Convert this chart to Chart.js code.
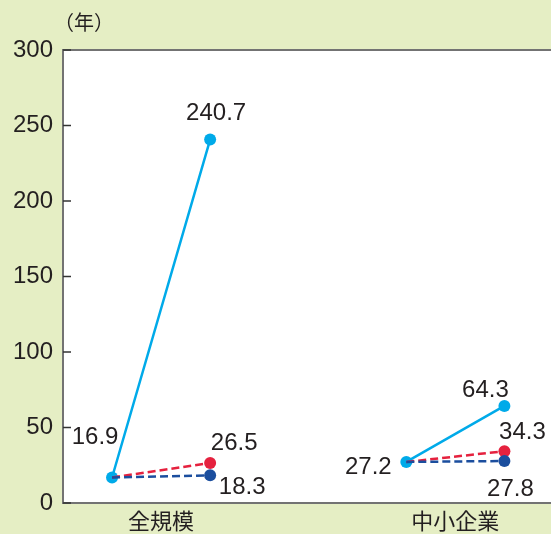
<!DOCTYPE html>
<html>
<head>
<meta charset="utf-8">
<script src="https://cdn.jsdelivr.net/npm/chart.js@4/dist/chart.umd.min.js"></script>
<style>
  html, body { margin: 0; padding: 0; background: #e5eec4; }
  canvas { display: block; }
</style>
</head>
<body>
<canvas id="c" width="551" height="534"></canvas>
<script>
// Categories and values (years)
const groups = ['全規模', '中小企業'];
const startValues = [16.9, 27.2];
const cyanEnd = [240.7, 64.3];
const redEnd = [26.5, 34.3];
const blueEnd = [18.3, 27.8];
const yTicks = [0, 50, 100, 150, 200, 250, 300];
const unitLabel = '（年）';

// Label offsets from each end point, [dx, dy] per group
const cyanLabelOffset = [[6, -26], [-19, -16]];
const redLabelOffset = [[24, -20], [18, -19]];
const blueLabelOffset = [[32, 12], [6, 28]];
const startLabelOffset = [[-17, -40], [-38, 5]];

const TEXT = '#231f20';
const NUM_FONT = '"Liberation Sans", Arial, sans-serif';
const CJK_FONT = '"Noto Sans CJK JP", sans-serif';

// Each group occupies a slot: start at 1 + 6i, end at 3 + 6i, a gap in between
function series(endVals) {
  const pts = [];
  groups.forEach((g, i) => {
    if (i > 0) pts.push({ x: 6 * i - 1, y: null });
    pts.push({ x: 1 + 6 * i, y: startValues[i] });
    pts.push({ x: 3 + 6 * i, y: endVals[i] });
  });
  return pts;
}
function radii(showStart) {
  const r = [];
  groups.forEach((g, i) => {
    if (i > 0) r.push(0);
    r.push(showStart ? 6 : 0);
    r.push(6);
  });
  return r;
}

const frame = {
  id: 'frame',
  beforeDraw(chart) {
    const { ctx, chartArea: a } = chart;
    ctx.save();
    ctx.fillStyle = '#e5eec4';
    ctx.fillRect(0, 0, chart.width, chart.height);
    ctx.fillStyle = '#ffffff';
    ctx.fillRect(a.left, a.top, a.right - a.left + 2, a.bottom - a.top);
    ctx.restore();
  },
  afterDraw(chart) {
    const { ctx, chartArea: a, scales } = chart;
    ctx.save();
    ctx.strokeStyle = '#737373';
    ctx.lineWidth = 2;
    ctx.beginPath();
    ctx.moveTo(a.right + 2, a.top);
    ctx.lineTo(a.left, a.top);
    ctx.lineTo(a.left, a.bottom);
    ctx.lineTo(a.right + 2, a.bottom);
    ctx.stroke();
    // inner tick marks on the value axis
    ctx.strokeStyle = '#333333';
    ctx.lineWidth = 1.5;
    yTicks.forEach(v => {
      const y = scales.y.getPixelForValue(v);
      ctx.beginPath();
      ctx.moveTo(a.left, y);
      ctx.lineTo(a.left + 8, y);
      ctx.stroke();
    });
    // unit label
    ctx.fillStyle = TEXT;
    ctx.font = '20px ' + CJK_FONT;
    ctx.textAlign = 'center';
    ctx.textBaseline = 'middle';
    ctx.fillText(unitLabel, 84, 22);
    ctx.restore();
  }
};

const valueLabels = {
  id: 'valueLabels',
  afterDatasetsDraw(chart) {
    const { ctx } = chart;
    ctx.save();
    ctx.fillStyle = TEXT;
    ctx.font = '24px ' + NUM_FONT;
    ctx.textAlign = 'center';
    ctx.textBaseline = 'middle';
    chart.data.datasets.forEach((ds, di) => {
      const meta = chart.getDatasetMeta(di);
      groups.forEach((g, i) => {
        const startIdx = i === 0 ? 0 : 3;
        const ep = meta.data[startIdx + 1];
        const [dx, dy] = ds.labelOffsets[i];
        ctx.fillText(ds.endValues[i].toFixed(1), ep.x + dx, ep.y + dy);
        if (ds.showStart) {
          const sp = meta.data[startIdx];
          const [sx, sy] = startLabelOffset[i];
          ctx.fillText(startValues[i].toFixed(1), sp.x + sx, sp.y + sy);
        }
      });
    });
    ctx.restore();
  }
};

new Chart(document.getElementById('c'), {
  type: 'line',
  data: {
    datasets: [
      {
        data: series(blueEnd), endValues: blueEnd, labelOffsets: blueLabelOffset, showStart: false,
        borderColor: '#1b4e9e', backgroundColor: '#1b4e9e', borderWidth: 2.5, borderDash: [8, 4],
        pointRadius: radii(false), pointBorderWidth: 0
      },
      {
        data: series(redEnd), endValues: redEnd, labelOffsets: redLabelOffset, showStart: false,
        borderColor: '#e5213e', backgroundColor: '#e5213e', borderWidth: 2.5, borderDash: [8, 4],
        pointRadius: radii(false), pointBorderWidth: 0
      },
      {
        data: series(cyanEnd), endValues: cyanEnd, labelOffsets: cyanLabelOffset, showStart: true,
        borderColor: '#00aae9', backgroundColor: '#00aae9', borderWidth: 2.5,
        pointRadius: radii(true), pointBorderWidth: 0
      }
    ]
  },
  options: {
    responsive: false,
    devicePixelRatio: 1,
    animation: false,
    spanGaps: false,
    layout: { autoPadding: false, padding: { top: 50, left: 0, right: 0, bottom: 0 } },
    plugins: { legend: { display: false }, tooltip: { enabled: false } },
    scales: {
      x: {
        type: 'linear', min: 0, max: 9.95,
        grid: { display: false, drawTicks: false }, border: { display: false },
        afterBuildTicks(scale) { scale.ticks = groups.map((g, i) => ({ value: 2 + 6 * i })); },
        afterFit(scale) { scale.height = 31; scale.paddingLeft = 0; scale.paddingRight = 0; },
        ticks: {
          autoSkip: false, maxRotation: 0, padding: 4,
          color: TEXT, font: { family: CJK_FONT, size: 22 },
          callback: (v) => groups[(v - 2) / 6]
        }
      },
      y: {
        min: 0, max: 300,
        grid: { display: false, drawTicks: false }, border: { display: false },
        afterBuildTicks(scale) { scale.ticks = yTicks.map(v => ({ value: v })); },
        afterFit(scale) { scale.width = 63; },
        ticks: { padding: 10, color: TEXT, font: { family: NUM_FONT, size: 24 } }
      }
    }
  },
  plugins: [frame, valueLabels]
});
</script>
</body>
</html>
